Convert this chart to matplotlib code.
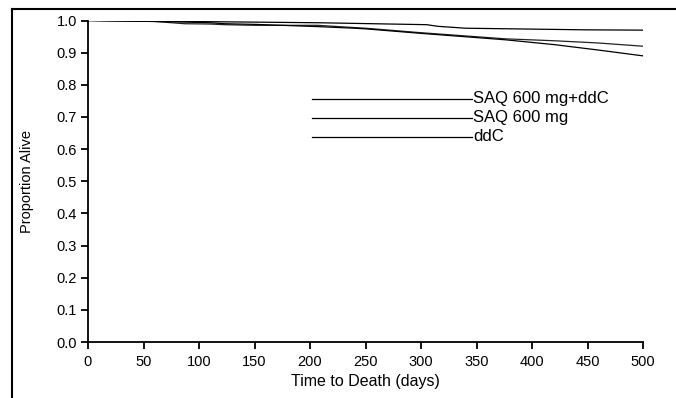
import matplotlib
matplotlib.use("Agg")
import matplotlib.pyplot as plt
from matplotlib.lines import Line2D

plt.rcParams['font.family'] = ['Liberation Sans', 'DejaVu Sans']

# Data
days_a = [0, 208, 305, 315, 340, 448, 500]
saq_ddc = [1.0, 0.993, 0.987, 0.982, 0.976, 0.971, 0.970]

days_bc = [0, 60, 87, 110, 123, 150, 207, 240, 250, 300, 376, 420, 460, 500]
saq = [1.0, 0.997, 0.990, 0.989, 0.987, 0.985, 0.985, 0.978, 0.976, 0.962, 0.943, 0.937, 0.930, 0.920]
ddc = [1.0, 0.997, 0.995, 0.993, 0.990, 0.988, 0.981, 0.976, 0.974, 0.960, 0.940, 0.925, 0.908, 0.890]

labels = ["SAQ 600 mg+ddC", "SAQ 600 mg", "ddC"]
xticks = [0, 50, 100, 150, 200, 250, 300, 350, 400, 450, 500]
yticks = [0.0, 0.1, 0.2, 0.3, 0.4, 0.5, 0.6, 0.7, 0.8, 0.9, 1.0]

fig = plt.figure(figsize=(6.76, 3.98), dpi=100)
ax = fig.add_axes([88/676, 1 - 342/398, (643 - 88)/676, (342 - 20.5)/398])

lw = 0.9
ax.plot(days_a, saq_ddc, color='black', lw=lw)
ax.plot(days_bc, saq, color='#222222', lw=lw)
ax.plot(days_bc, ddc, color='black', lw=lw)

ax.set_xlim(0, 500)
ax.set_ylim(0, 1.0)
ax.set_xticks(xticks)
ax.set_xticklabels([str(t) for t in xticks])
ax.set_yticks(yticks)
ax.set_yticklabels([f"{t:.1f}" for t in yticks])

for s in ['top', 'right']:
    ax.spines[s].set_visible(False)
for s in ['left', 'bottom']:
    ax.spines[s].set_linewidth(1.3)
ax.tick_params(axis='x', direction='out', length=5, width=1.3, labelsize=10.5, pad=4, colors='black')
ax.tick_params(axis='y', direction='out', length=5, width=1.3, labelsize=10.5, pad=3, colors='black')

ax.set_xlabel("Time to Death (days)", fontsize=11.5, labelpad=4)
ax.set_ylabel("Proportion Alive", fontsize=10.5, labelpad=16)

# Legend drawn as lines with labels at their right end
leg_y = [0.756, 0.697, 0.638]
for lab, yy in zip(labels, leg_y):
    ax.plot([0.404, 0.692], [yy, yy], color='black', lw=lw, transform=ax.transAxes, clip_on=False)
    ax.text(0.694, yy, lab, transform=ax.transAxes, fontsize=12, va='center', ha='left')

# Figure frame (top and left border)
fig.add_artist(Line2D([12/676, 12/676], [0, 1 - 9/398], color='black', lw=1.5, transform=fig.transFigure))
fig.add_artist(Line2D([12/676, 1], [1 - 9/398, 1 - 9/398], color='black', lw=1.5, transform=fig.transFigure))

fig.savefig("out.png", dpi=100)
